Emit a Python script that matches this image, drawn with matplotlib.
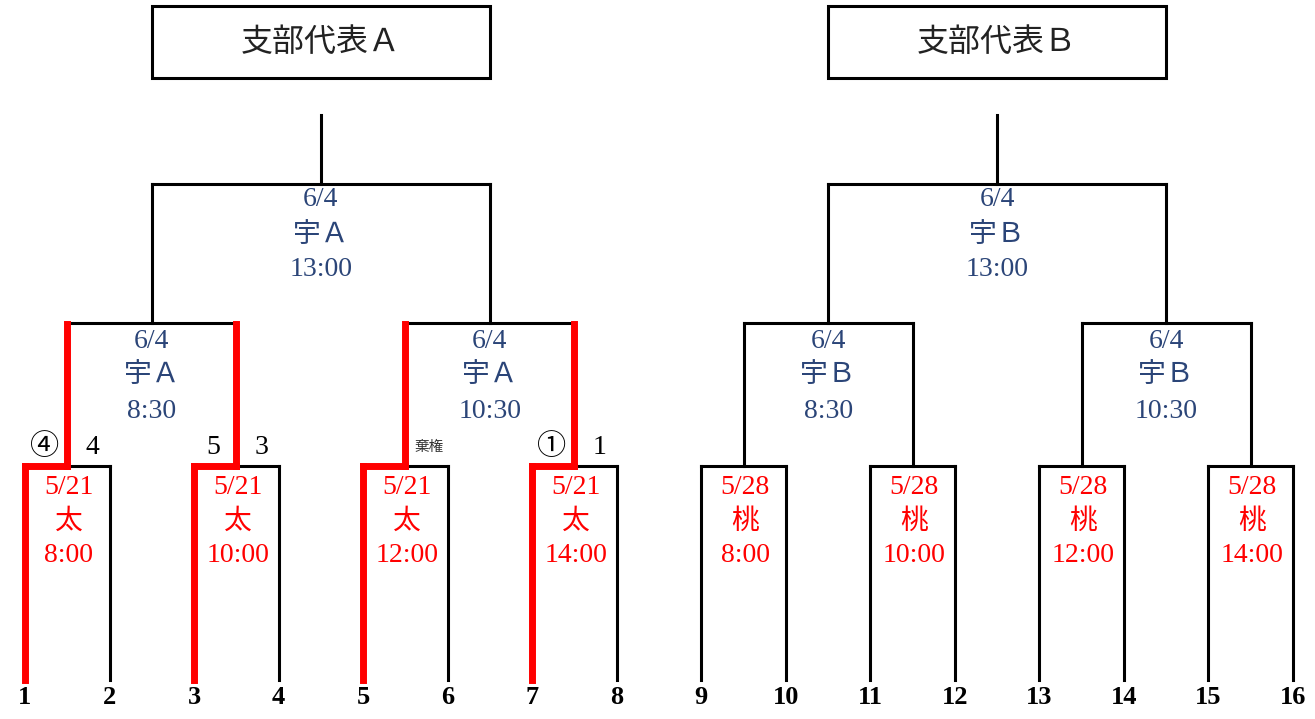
import matplotlib
matplotlib.use("Agg")
import matplotlib.pyplot as plt
from matplotlib.patches import Rectangle

plt.rcParams['font.family'] = ['Liberation Serif', 'Noto Sans CJK JP', 'DejaVu Sans']

# ---------------- data ----------------
teams = [str(i) for i in range(1, 17)]
r1_dates = ["5/21", "5/21", "5/21", "5/21", "5/28", "5/28", "5/28", "5/28"]
r1_venues = ["太", "太", "太", "太", "桃", "桃", "桃", "桃"]
r1_times = ["8:00", "10:00", "12:00", "14:00", "8:00", "10:00", "12:00", "14:00"]
r1_score_left = ["④", "5", "", "①", "", "", "", ""]
r1_score_right = ["4", "3", "棄権", "1", "", "", "", ""]
r1_winner = [0, 0, 0, 0, None, None, None, None]   # 0 = left team, 1 = right team
r2_dates = ["6/4", "6/4", "6/4", "6/4"]
r2_venues = ["宇Ａ", "宇Ａ", "宇Ｂ", "宇Ｂ"]
r2_times = ["8:30", "10:30", "8:30", "10:30"]
r3_dates = ["6/4", "6/4"]
r3_venues = ["宇Ａ", "宇Ｂ"]
r3_times = ["13:00", "13:00"]
finals = ["支部代表Ａ", "支部代表Ｂ"]

# ---------------- layout ----------------
W, H = 1315, 719
fig = plt.figure(figsize=(W / 100, H / 100), dpi=100)
ax = fig.add_axes([0, 0, 1, 1])
step = (1293 - 25) / 15
ax.set_xlim(-25 / step, 15 + (W - 1293) / step)
ax.set_ylim(H, 0)
ax.axis('off')

y0, y1, y2, y3, y4 = 680, 466, 323, 184, 115
RED = '#FF0000'
BLUE = '#2B4578'
BLK = '#000000'
lw_b, lw_r = 2.2, 5.0
FS = 20

def line(xs, ys, color=BLK, lw=lw_b, z=2):
    ax.plot(xs, ys, color=color, lw=lw, solid_capstyle='projecting',
            solid_joinstyle='miter', zorder=z)

def label(x, y, s, color, fs=FS):
    ax.text(x, y, s, ha='center', va='center', fontsize=fs, color=color)

# team numbers
for i, t in enumerate(teams):
    ax.text(i, 698, t, ha='center', va='center', fontsize=19, fontweight='bold', color=BLK)

# round 1
r1_mid = []
for k in range(8):
    a, b = 2 * k, 2 * k + 1
    m = (a + b) / 2
    r1_mid.append(m)
    line([a, a], [y0, y1]); line([b, b], [y0, y1])
    line([a, b], [y1, y1])
    line([m, m], [y1, y2])
    w = r1_winner[k]
    if w is not None:
        tx = a if w == 0 else b
        line([tx, tx], [y0, y1], RED, lw_r, 3)
        line([tx, m], [y1, y1], RED, lw_r, 3)
        line([m, m], [y1, y2 + 1], RED, lw_r, 3)
    xs = m + 0.02
    for dy, s in zip([488, 522, 556], [r1_dates[k], r1_venues[k], r1_times[k]]):
        label(xs, dy, s, RED)
    if r1_score_left[k]:
        sl = r1_score_left[k]
        circ = sl in "①④"
        ax.text(m - 0.27, 447, sl, ha='center', va='center', fontsize=21 if circ else FS,
                color=BLK, family=['Noto Sans CJK JP'] if circ else ['Liberation Serif'])
    if r1_score_right[k]:
        sr = r1_score_right[k]
        if len(sr) > 1:
            ax.text(m + 0.28, 447, sr, ha='center', va='center', fontsize=10.5,
                    color='#333333', family=['Noto Sans CJK JP'])
        else:
            ax.text(m + 0.3, 447, sr, ha='center', va='center', fontsize=FS, color=BLK)

# round 2
r2_mid = []
for k in range(4):
    a, b = r1_mid[2 * k], r1_mid[2 * k + 1]
    m = (a + b) / 2
    r2_mid.append(m)
    line([a, b], [y2, y2])
    line([m, m], [y2, y3])
    for dy, s in zip([341, 376, 411], [r2_dates[k], r2_venues[k], r2_times[k]]):
        label(m, dy, s, BLUE)

# round 3 and final boxes
for k in range(2):
    a, b = r2_mid[2 * k], r2_mid[2 * k + 1]
    m = (a + b) / 2
    line([a, b], [y3, y3])
    line([m, m], [y3, y4])
    for dy, s in zip([200, 235, 269], [r3_dates[k], r3_venues[k], r3_times[k]]):
        label(m, dy, s, BLUE)
    ax.add_patch(Rectangle((a, 6), b - a, 72, fill=False, lw=2.2, edgecolor=BLK, zorder=2))
    ax.text(m, 43, finals[k], ha='center', va='center', fontsize=23, color='#222222')

fig.savefig("out.png", dpi=100)
